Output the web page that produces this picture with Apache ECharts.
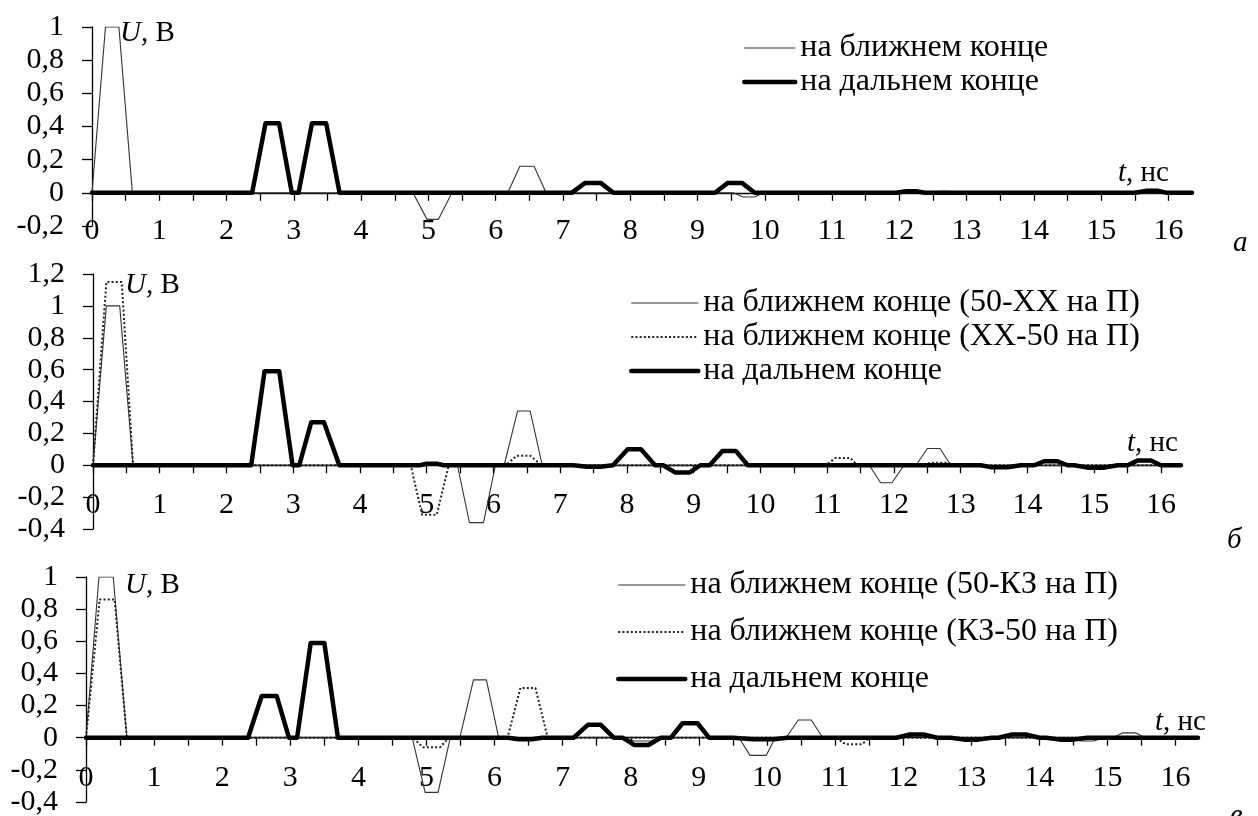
<!DOCTYPE html>
<html>
<head>
<meta charset="utf-8">
<script src="https://cdn.jsdelivr.net/npm/echarts@6/dist/echarts.min.js"></script>
<style>
html,body{margin:0;padding:0;background:#fff;}
#chart{width:1258px;height:816px;}
</style>
</head>
<body>
<div id="chart"></div>
<script>
// ---- tick values ----
const xTickVals = [0,0.5,1,1.5,2,2.5,3,3.5,4,4.5,5,5.5,6,6.5,7,7.5,8,8.5,9,9.5,10,10.5,11,11.5,12,12.5,13,13.5,14,14.5,15,15.5,16];
const xLabelVals = [0,1,2,3,4,5,6,7,8,9,10,11,12,13,14,15,16];

// ---- legend names ----
const namesA = ['на ближнем конце', 'на дальнем конце'];
const namesB = ['на ближнем конце (50-ХХ на П)', 'на ближнем конце (ХХ-50 на П)', 'на дальнем конце'];
const namesC = ['на ближнем конце (50-КЗ на П)', 'на ближнем конце (КЗ-50 на П)', 'на дальнем конце'];

// ---- panel а: [t (нс), U (В)] ----
const aNear = [[0,0],[0.2,1],[0.4,1],[0.6,0],[4.77,0],[4.98,-0.16],[5.15,-0.16],[5.35,0],[6.18,0],[6.36,0.16],[6.57,0.16],[6.75,0],[7.95,0],[8.05,0.005],[8.25,0.005],[8.35,0],[9.53,0],[9.68,-0.025],[9.85,-0.025],[9.98,0],[12.45,0],[12.58,0.01],[12.75,0.01],[12.85,0],[16.35,0]];
const aFar = [[0,0],[2.38,0],[2.58,0.42],[2.78,0.42],[2.97,0],[3.07,0],[3.27,0.42],[3.48,0.42],[3.68,0],[7.13,0],[7.33,0.06],[7.56,0.06],[7.75,0],[9.26,0],[9.45,0.06],[9.66,0.06],[9.85,0],[11.95,0],[12.1,0.01],[12.25,0.01],[12.38,0],[15.5,0],[15.68,0.012],[15.85,0.012],[15.98,0],[16.35,0]];

// ---- panel б ----
const bNear1 = [[0,0],[0.2,1],[0.4,1],[0.6,0],[5.46,0],[5.64,-0.36],[5.85,-0.36],[6.03,0],[6.16,0],[6.36,0.34],[6.55,0.34],[6.73,0],[11.63,0],[11.8,-0.11],[11.97,-0.11],[12.15,0],[12.33,0],[12.5,0.105],[12.69,0.105],[12.85,0],[16.3,0]];
const bNear2 = [[0,0],[0.2,1.15],[0.43,1.15],[0.6,0],[4.76,0],[4.93,-0.31],[5.15,-0.31],[5.33,0],[6.18,0],[6.35,0.06],[6.55,0.06],[6.72,0],[10.98,0],[11.12,0.045],[11.35,0.045],[11.45,0],[12.4,0],[12.55,0.015],[12.8,0.015],[12.9,0],[16.3,0]];
const bFar = [[0,0],[2.37,0],[2.57,0.59],[2.79,0.59],[2.99,0],[3.09,0],[3.27,0.27],[3.46,0.27],[3.69,0],[4.9,0],[5.0,0.01],[5.15,0.01],[5.25,0],[7.2,0],[7.4,-0.01],[7.6,-0.01],[7.79,0],[8.01,0.1],[8.21,0.1],[8.42,0],[8.54,0],[8.72,-0.045],[8.94,-0.045],[9.1,0],[9.24,0],[9.43,0.09],[9.63,0.09],[9.81,0],[13.3,0],[13.45,-0.012],[13.7,-0.012],[13.9,0],[14.1,0],[14.25,0.025],[14.45,0.025],[14.6,0],[14.7,0],[14.9,-0.015],[15.15,-0.015],[15.35,0],[15.5,0],[15.65,0.03],[15.85,0.03],[16.0,0],[16.3,0]];

// ---- panel в ----
const cNear1 = [[0,0],[0.19,1],[0.4,1],[0.6,0],[4.79,0],[4.98,-0.34],[5.17,-0.34],[5.35,0],[5.49,0],[5.69,0.36],[5.88,0.36],[6.06,0],[7.9,0],[8.05,-0.02],[8.3,-0.02],[8.45,0],[9.59,0],[9.75,-0.11],[9.99,-0.11],[10.12,0],[10.28,0],[10.46,0.11],[10.65,0.11],[10.82,0],[12.0,0],[12.15,0.012],[12.35,0.012],[12.5,0],[14.45,0],[14.6,-0.02],[14.8,-0.02],[14.95,0],[15.08,0],[15.22,0.03],[15.42,0.03],[15.55,0],[16.33,0]];
const cNear2 = [[0,0],[0.2,0.86],[0.42,0.86],[0.6,0],[4.8,0],[4.95,-0.06],[5.2,-0.06],[5.33,0],[6.19,0],[6.38,0.31],[6.6,0.31],[6.78,0],[11.02,0],[11.15,-0.04],[11.4,-0.04],[11.5,0],[16.33,0]];
const cFar = [[0,0],[2.38,0],[2.58,0.26],[2.8,0.26],[2.98,0],[3.1,0],[3.3,0.59],[3.5,0.59],[3.7,0],[6.2,0],[6.35,-0.01],[6.55,-0.01],[6.7,0],[7.16,0],[7.37,0.08],[7.56,0.08],[7.75,0],[7.88,0],[8.05,-0.045],[8.26,-0.045],[8.44,0],[8.59,0],[8.76,0.09],[8.98,0.09],[9.15,0],[9.5,0],[9.8,-0.01],[10.1,-0.01],[10.3,0],[11.9,0],[12.1,0.02],[12.3,0.02],[12.5,0],[12.7,0],[12.9,-0.012],[13.1,-0.012],[13.3,0],[13.4,0],[13.6,0.02],[13.8,0.02],[14.0,0],[14.1,0],[14.3,-0.012],[14.5,-0.012],[14.7,0],[16.33,0]];

const FONT = 'Liberation Serif';
const FS = 30;      // tick labels
const FS_LEG = 32;  // legend text
const FS_T = 29;    // axis names / panel letters

const thin = {color:'#333', width:1.1, type:'solid'};
const dotted = {color:'#222', width:2, type:[2,2.2]};
const thick = {color:'#000', width:4.5, type:'solid', cap:'round', join:'round'};

function yFmt(v){ return String(Math.round(v*10)/10).replace('.', ','); }

function xAx(i, max, margin){
  return {
    type:'value', gridIndex:i, min:0, max:max,
    axisLine:{show:true, onZero:true, lineStyle:{color:'#000', width:1.3}},
    axisTick:{show:true, customValues:xTickVals, length:8, lineStyle:{color:'#000', width:1.3}},
    axisLabel:{customValues:xLabelVals, margin:margin, color:'#000', fontFamily:FONT, fontSize:FS, formatter:v=>String(v)},
    splitLine:{show:false}
  };
}
function yAx(i, min, max){
  return {
    type:'value', gridIndex:i, min:min, max:max, interval:0.2,
    axisLine:{show:true, onZero:false, lineStyle:{color:'#000', width:1.3}},
    axisTick:{show:true, length:10, lineStyle:{color:'#000', width:1.3}},
    axisLabel:{margin:28, color:'#000', fontFamily:FONT, fontSize:FS, formatter:yFmt, showMinLabel:true, showMaxLabel:true, hideOverlap:false},
    splitLine:{show:false}
  };
}
function ser(i, name, data, ls, z){
  return {type:'line', name:name, xAxisIndex:i, yAxisIndex:i, data:data, symbol:'none', showSymbol:false,
          lineStyle:ls, z:z, silent:true, animation:false};
}
function leg(left, top, itemWidth, gap, names, styles){
  return {
    orient:'vertical', left:left, top:top, itemWidth:itemWidth, itemHeight:14, itemGap:gap,
    padding:0, selectedMode:false,
    itemStyle:{opacity:0},
    textStyle:{fontFamily:FONT, fontSize:FS_LEG, color:'#000', lineHeight:32},
    data:names.map((n,k)=>({name:n, lineStyle:styles[k]}))
  };
}
function txt(left, top, text){
  return {left:left, top:top, text:text, padding:0,
    textStyle:{fontFamily:FONT, fontSize:FS_T, fontWeight:'normal', color:'#000',
      rich:{i:{fontFamily:FONT, fontSize:FS_T, fontStyle:'italic', color:'#000'}, n:{fontFamily:FONT, fontSize:FS_T, color:'#000'}}}};
}

const option = {
  animation:false,
  backgroundColor:'#fff',
  grid:[
    {left:92, top:27, width:1100, height:199, containLabel:false, outerBoundsMode:'none'},
    {left:93, top:274, width:1088, height:255, containLabel:false, outerBoundsMode:'none'},
    {left:86, top:577, width:1112, height:225, containLabel:false, outerBoundsMode:'none'}
  ],
  xAxis:[xAx(0,16.35,-10), xAx(1,16.3,-39), xAx(2,16.33,-39)],
  yAxis:[yAx(0,-0.2,1), yAx(1,-0.4,1.2), yAx(2,-0.4,1)],
  legend:[
    leg(742, 32, 51, 2, namesA, [{width:1.1,type:'solid'},{width:4.5,type:'solid'}]),
    leg(629, 287, 67, 2, namesB, [{width:1.1,type:'solid'},{width:2,type:[2,2.2]},{width:4.5,type:'solid'}]),
    leg(616, 569, 67, 15, namesC, [{width:1.1,type:'solid'},{width:2,type:[2,2.2]},{width:4.5,type:'solid'}])
  ],
  title:[
    txt(120, 19, '{i|U}{n|, В}'),
    txt(125, 271, '{i|U}{n|, В}'),
    txt(125, 571, '{i|U}{n|, В}'),
    txt(1118, 159, '{i|t}{n|, нс}'),
    txt(1127, 429, '{i|t}{n|, нс}'),
    txt(1155, 708, '{i|t}{n|, нс}'),
    txt(1233, 229, '{i|а}'),
    txt(1227, 526, '{i|б}'),
    txt(1230, 802, '{i|в}')
  ],
  series:[
    ser(0, namesA[0], aNear, thin, 2),
    ser(0, namesA[1], aFar, thick, 3),
    ser(1, namesB[0], bNear1, thin, 2),
    ser(1, namesB[1], bNear2, dotted, 2),
    ser(1, namesB[2], bFar, thick, 3),
    ser(2, namesC[0], cNear1, thin, 2),
    ser(2, namesC[1], cNear2, dotted, 2),
    ser(2, namesC[2], cFar, thick, 3)
  ]
};
const chart = echarts.init(document.getElementById('chart'), null, {renderer:'canvas'});
chart.setOption(option);
</script>
</body>
</html>
